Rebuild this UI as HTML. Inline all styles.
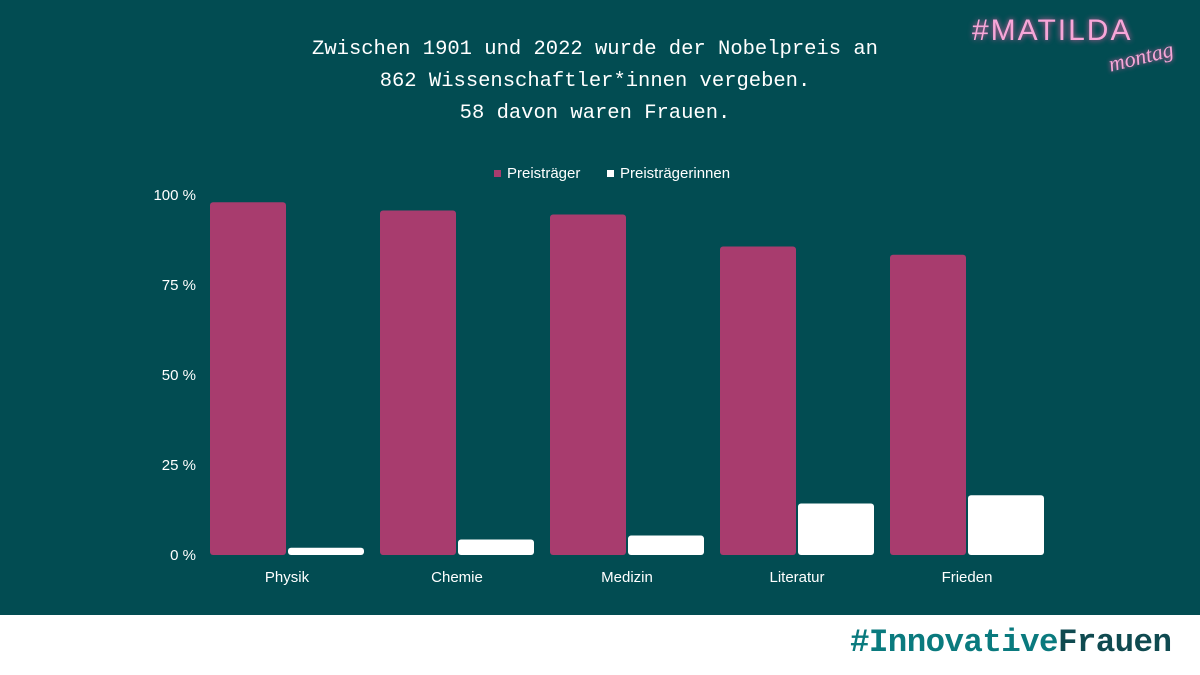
<!DOCTYPE html>
<html><head><meta charset="utf-8"><style>
body{margin:0;width:1200px;height:675px;overflow:hidden;background:#fff;font-family:"Liberation Sans",sans-serif}
#bg{position:absolute;left:0;top:0;width:1200px;height:615px;background:#024c52}
.title{position:absolute;left:150px;width:890px;top:34px;text-align:center;color:#fff;font-family:"Liberation Mono",monospace;font-size:20.5px;line-height:32px}
.logo{position:absolute;left:972px;top:14px;color:#f7a6d8;font-size:30px;letter-spacing:2px;text-shadow:0 0 6px #e0609f}
.logo2{position:absolute;left:1108px;top:44px;color:#f7a6d8;font-family:"Liberation Serif",serif;font-style:italic;font-size:22px;transform:rotate(-14deg);text-shadow:0 0 5px #e0609f}
.tag{position:absolute;left:850px;top:624px;font-family:"Liberation Mono",monospace;font-weight:bold;font-size:32.5px;color:#0a7a7e;letter-spacing:-0.6px}
.tag span{color:#0f4a50}
</style></head><body>
<div id="bg"></div>
<div class="title">Zwischen 1901 und 2022 wurde der Nobelpreis an<br>862 Wissenschaftler*innen vergeben.<br>58 davon waren Frauen.</div>
<div class="logo">#MATILDA</div>
<div class="logo2">montag</div>
<div class="tag">#Innovative<span>Frauen</span></div>
<svg id="chart" width="1200" height="615" style="position:absolute;left:0;top:0"></svg>
<script>
const categories=["Physik","Chemie","Medizin","Literatur","Frieden"];
const maleValues=[98,95.7,94.6,85.7,83.4];
const femaleValues=[2,4.3,5.4,14.3,16.6];
const tickValues=[0,25,50,75,100];
const tickLabels=["0 %","25 %","50 %","75 %","100 %"];
const svg=document.getElementById('chart');
const NS="http://www.w3.org/2000/svg";
const y=v=>555-v*3.6;
const x=i=>287+i*170;
function mk(t,a){const e=document.createElementNS(NS,t);for(const k in a)e.setAttribute(k,a[k]);svg.appendChild(e);return e;}
tickValues.forEach((v,i)=>{const t=mk('text',{x:196,y:y(v)+5,'text-anchor':'end',fill:'#fff','font-size':15});t.textContent=tickLabels[i];

});
categories.forEach((c,i)=>{
const m=mk('rect',{x:x(i)-77,y:y(maleValues[i]),width:76,height:555-y(maleValues[i]),rx:3,fill:'#a83c6e'});


const f=mk('rect',{x:x(i)+1,y:y(femaleValues[i]),width:76,height:555-y(femaleValues[i]),rx:3,fill:'#fff'});


const t=mk('text',{x:x(i),y:582,'text-anchor':'middle',fill:'#fff','font-size':15});t.textContent=c;


});
const l1=mk('rect',{x:494,y:170,width:7,height:7,fill:'#a83c6e'});


const lt1=mk('text',{x:507,y:178,fill:'#fff','font-size':15});lt1.textContent='Preisträger';


const l2=mk('rect',{x:607,y:170,width:7,height:7,fill:'#fff'});


const lt2=mk('text',{x:620,y:178,fill:'#fff','font-size':15});lt2.textContent='Preisträgerinnen';


</script>
</body></html>
